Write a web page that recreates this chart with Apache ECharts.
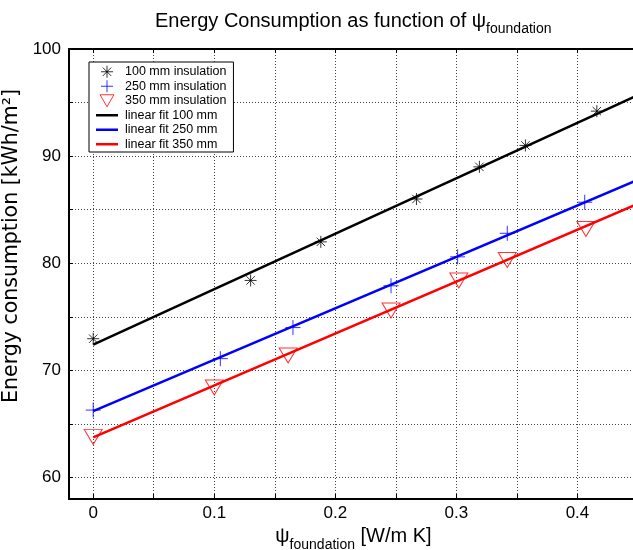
<!DOCTYPE html>
<html>
<head>
    <meta charset="utf-8"/>
    <title>Energy Consumption</title>
    <script src="https://cdn.jsdelivr.net/npm/echarts@6/dist/echarts.min.js"></script>
    <style>
        html, body { margin: 0; padding: 0; background: #fff; }
        #mychart { width: 633px; height: 550px; }
    </style>
</head>
<body>
<div id="mychart"></div>
<script>
    // measured points
    var psi100 = [0.0, 0.130, 0.188, 0.267, 0.319, 0.357, 0.416];
    var e100 = [72.96, 78.4, 82.0, 86.0, 89.0, 91.0, 94.2];
    var psi250 = [0.0, 0.105, 0.165, 0.246, 0.301, 0.342, 0.406];
    var e250 = [66.3, 71.1, 74.0, 77.9, 80.6, 82.8, 85.7];
    var psi350 = [0.0, 0.100, 0.161, 0.246, 0.302, 0.342, 0.407];
    var e350 = [63.8, 68.4, 71.4, 75.6, 78.4, 80.3, 83.2];

    // fit lines, end points
    var fitX = [0, 0.45];
    var fit100 = [72.4, 95.7];
    var fit250 = [66.2, 87.8];
    var fit350 = [63.75, 85.55];

    // ticks
    var xTicks = [0, 0.05, 0.1, 0.15, 0.2, 0.25, 0.3, 0.35, 0.4];
    var xLabels = [0, 0.1, 0.2, 0.3, 0.4];
    var yTicks = [60, 65, 70, 75, 80, 85, 90, 95, 100];
    var yLabels = [60, 70, 80, 90, 100];

    var font = 'Liberation Sans, Arial, Helvetica, sans-serif';

    function pairs(xs, ys) {
        var out = [];
        for (var i = 0; i < xs.length; i++) {
            out.push([xs[i], ys[i]]);
        }
        return out;
    }

    // marker shapes (stroke only)
    var starPath = 'path://M6,0L6,12M0,6L12,6M1.8,1.8L10.2,10.2M1.8,10.2L10.2,1.8';
    var plusPath = 'path://M6,0L6,12M0,6L12,6';
    var triPath = 'path://M0,0L15,0L7.5,13Z';
    var barPath = 'path://M0,0L22,0L22,2.5L0,2.5Z';

    var grid = {type: [1, 2], color: '#444', width: 1};
    var sub = {
        a: {fontSize: 20, fontFamily: font, fontWeight: 'normal', color: '#000', padding: [0, 0, 5, 0], verticalAlign: 'bottom'},
        b: {fontSize: 14, fontFamily: font, fontWeight: 'normal', color: '#000', verticalAlign: 'bottom'}
    };
    // legend icons get a see-through fill, else their hit box grows
    var clear = 'rgba(255,255,255,0)';

    var myChart = echarts.init(document.getElementById('mychart'));
    var option = {
        backgroundColor: '#fff',
        animation: false,
        title: {
            text: '{a|Energy Consumption as function of ψ}{b|foundation}',
            left: 150,
            top: 6,
            textStyle: {fontWeight: 'normal', rich: sub}
        },
        legend: {
            orient: 'vertical',
            left: 89,
            top: 62,
            padding: [3, 7, 1, 7],
            itemGap: 1,
            itemWidth: 22,
            itemHeight: 12,
            borderColor: '#000',
            borderWidth: 1,
            backgroundColor: '#fff',
            textStyle: {fontSize: 12.5, fontFamily: font, color: '#000', lineHeight: 13.5, padding: [0, 0, 0, 2]},
            data: [
                {name: '100 mm insulation', icon: starPath, itemStyle: {color: clear, borderColor: '#000', borderWidth: 1}},
                {name: '250 mm insulation', icon: plusPath, itemStyle: {color: clear, borderColor: '#0000ff', borderWidth: 1}},
                {name: '350 mm insulation', icon: triPath, itemStyle: {color: clear, borderColor: '#ff0000', borderWidth: 1}},
                {name: 'linear fit 100 mm', icon: barPath, itemStyle: {color: '#000', borderWidth: 0}},
                {name: 'linear fit 250 mm', icon: barPath, itemStyle: {color: '#0000ff', borderWidth: 0}},
                {name: 'linear fit 350 mm', icon: barPath, itemStyle: {color: '#ff0000', borderWidth: 0}}
            ]
        },
        grid: {left: 69, right: -5, top: 49, bottom: 51, outerBoundsMode: 'none'},
        xAxis: [{
            type: 'value',
            min: -0.02,
            max: 0.45,
            position: 'bottom',
            name: '{a|ψ}{b|foundation}{a| [W/m K]}',
            nameLocation: 'middle',
            nameGap: 26,
            nameTextStyle: {rich: sub},
            axisLine: {onZero: false, lineStyle: {color: '#000', width: 2}},
            axisTick: {inside: true, length: 5, customValues: xTicks, lineStyle: {color: '#000'}},
            axisLabel: {customValues: xLabels, margin: 6, fontSize: 17, fontFamily: font, color: '#000'},
            splitLine: {show: true, lineStyle: grid}
        }, {
            type: 'value',
            min: -0.02,
            max: 0.45,
            position: 'top',
            axisLine: {onZero: false, lineStyle: {color: '#000', width: 2}},
            axisTick: {inside: true, length: 4, customValues: xTicks, lineStyle: {color: '#000'}},
            axisLabel: {show: false},
            splitLine: {show: false}
        }],
        yAxis: {
            type: 'value',
            min: 58,
            max: 100,
            name: 'Energy consumption [kWh/m²]',
            nameLocation: 'middle',
            nameGap: 30,
            // left padding lifts the label a bit above the middle, as in the picture
            nameTextStyle: {fontSize: 20.5, fontFamily: 'DejaVu Sans, sans-serif', color: '#000', padding: [0, 0, 0, 56]},
            axisLine: {show: true, onZero: false, lineStyle: {color: '#000', width: 2}},
            axisTick: {show: true, inside: true, length: 4, customValues: yTicks, lineStyle: {color: '#000'}},
            axisLabel: {customValues: yLabels, margin: 8, fontSize: 17, fontFamily: font, color: '#000'},
            splitLine: {show: true, lineStyle: grid}
        },
        series: [
            {
                name: '100 mm insulation', type: 'scatter', data: pairs(psi100, e100),
                symbol: starPath, symbolSize: 12,
                itemStyle: {color: 'none', borderColor: '#000', borderWidth: 1}
            },
            {
                name: '250 mm insulation', type: 'scatter', data: pairs(psi250, e250),
                symbol: plusPath, symbolSize: 15,
                itemStyle: {color: 'none', borderColor: '#0000ff', borderWidth: 1}
            },
            {
                name: '350 mm insulation', type: 'scatter', data: pairs(psi350, e350),
                symbol: triPath, symbolSize: [18, 15],
                itemStyle: {color: 'none', borderColor: '#ff0000', borderWidth: 1}
            },
            {
                name: 'linear fit 100 mm', type: 'line', data: pairs(fitX, fit100),
                symbol: 'none', showSymbol: false, color: '#000',
                lineStyle: {color: '#000', width: 2.5}
            },
            {
                name: 'linear fit 250 mm', type: 'line', data: pairs(fitX, fit250),
                symbol: 'none', showSymbol: false, color: '#0000ff',
                lineStyle: {color: '#0000ff', width: 2.5}
            },
            {
                name: 'linear fit 350 mm', type: 'line', data: pairs(fitX, fit350),
                symbol: 'none', showSymbol: false, color: '#ff0000',
                lineStyle: {color: '#ff0000', width: 2.5}
            }
        ]
    };
    myChart.setOption(option);
</script>
</body>
</html>
